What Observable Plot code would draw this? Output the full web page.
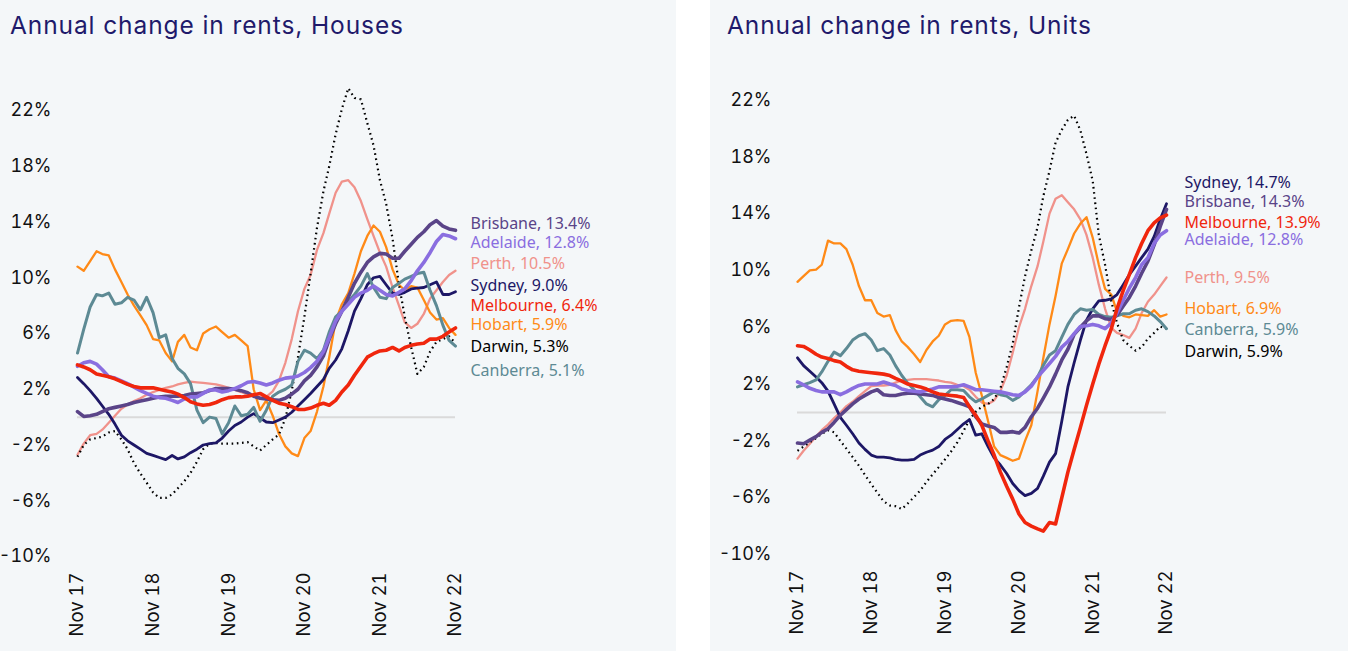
<!DOCTYPE html>
<html>
<head>
<meta charset="utf-8">
<script src="https://cdn.jsdelivr.net/npm/d3@7"></script>
<script src="https://cdn.jsdelivr.net/npm/@observablehq/plot@0.6"></script>
<style>
  html, body { margin: 0; padding: 0; background: #ffffff; }
  #wrap { position: relative; width: 1348px; height: 651px; overflow: hidden; }
  .panel { position: absolute; top: 0; height: 651px; background: #f4f7f9; }
  .title { height: 48px; line-height: 50px; font-family: Inter, "Noto Sans", sans-serif; font-size: 24.5px; letter-spacing: 0.9px; color: #1f1a6b; white-space: nowrap; }
  .panel svg { display: block; overflow: visible; }
</style>
</head>
<body>
<div id="wrap">
  <div class="panel" id="left" style="left:0; width:676px;"><div class="title" style="padding-left:10px;">Annual change in rents, Houses</div></div>
  <div class="panel" id="right" style="left:710px; width:638px;"><div class="title" style="padding-left:17px;">Annual change in rents, Units</div></div>
</div>
<script>
// ---------- data ----------
const cities = ["Sydney", "Melbourne", "Brisbane", "Adelaide", "Perth", "Hobart", "Darwin", "Canberra"];
const firstMonth = new Date(Date.UTC(2017, 10, 1)); // Nov 2017, monthly to Nov 2022 (61 points)

const yTicks = [-10, -6, -2, 2, 6, 10, 14, 18, 22];
const xTickLabels = ["Nov 17", "Nov 18", "Nov 19", "Nov 20", "Nov 21", "Nov 22"];

// Houses: annual change in rents (%)
const housesSydney = [2.85,2.4,1.9,1.35,0.8,0.2,-0.5,-1.3,-1.7,-2.0,-2.3,-2.6,-2.75,-2.9,-3.05,-2.75,-3.0,-2.85,-2.55,-2.3,-2.0,-1.9,-1.85,-1.5,-1.0,-0.6,-0.35,0.0,0.25,-0.05,-0.35,-0.4,-0.2,0.0,0.35,0.8,1.25,1.7,2.2,2.7,3.5,4.1,4.9,6.2,7.6,8.5,9.5,10.0,10.1,9.5,8.9,8.8,8.95,9.2,9.25,9.3,9.5,9.7,8.8,8.8,9.0];
const housesMelbourne = [3.75,3.6,3.4,3.1,3.0,2.9,2.75,2.55,2.35,2.2,2.1,2.1,2.1,2.0,1.9,1.8,1.65,1.4,1.1,0.95,0.85,0.9,1.05,1.25,1.4,1.45,1.45,1.5,1.6,1.7,1.45,1.2,1.0,0.9,0.75,0.55,0.55,0.65,0.85,1.0,0.85,1.2,1.8,2.3,3.0,3.65,4.3,4.55,4.75,4.8,5.0,4.75,5.0,5.15,5.25,5.3,5.6,5.6,5.8,6.1,6.4];
const housesBrisbane = [0.4,0.05,0.1,0.2,0.4,0.6,0.7,0.8,0.9,1.05,1.15,1.25,1.35,1.45,1.5,1.5,1.5,1.55,1.65,1.7,1.75,1.9,2.05,2.05,2.05,2.0,1.9,1.75,1.5,1.35,1.3,1.25,1.2,1.35,1.65,2.0,2.6,3.0,3.6,4.4,5.6,6.7,7.6,8.6,9.6,10.4,11.1,11.5,11.75,11.7,11.4,11.4,11.9,12.4,12.9,13.3,13.8,14.1,13.7,13.5,13.4];
const housesAdelaide = [3.65,3.9,4.0,3.8,3.4,2.9,2.8,2.6,2.4,2.15,1.9,1.7,1.5,1.4,1.35,1.2,1.05,1.3,1.45,1.45,1.7,1.95,1.95,1.8,1.9,2.05,2.25,2.5,2.55,2.45,2.3,2.45,2.65,2.8,2.85,2.95,3.2,3.55,4.0,4.7,5.7,6.9,7.6,8.1,8.6,8.9,9.1,9.4,9.1,8.8,8.7,8.95,9.2,9.8,10.5,11.1,11.8,12.6,13.1,13.0,12.8];
const housesPerth = [-2.7,-1.9,-1.3,-1.2,-0.9,-0.4,0.1,0.6,0.9,1.15,1.35,1.6,1.8,1.95,2.1,2.2,2.35,2.45,2.55,2.5,2.45,2.4,2.35,2.25,2.1,1.95,1.8,1.6,1.5,1.4,1.45,1.85,2.6,3.9,5.6,7.6,9.2,10.2,12.0,13.2,14.6,16.1,16.9,17.0,16.5,15.5,14.2,13.0,11.8,10.8,9.3,8.0,6.8,6.4,6.7,7.4,8.5,9.1,9.7,10.2,10.5];
const housesHobart = [10.8,10.5,11.2,11.9,11.7,11.6,10.6,9.7,8.8,8.0,7.3,6.6,5.6,5.5,4.6,4.0,5.4,5.9,5.0,4.8,6.0,6.3,6.5,6.1,5.7,5.9,5.5,5.1,2.0,0.5,1.2,0.1,-1.2,-2.1,-2.6,-2.8,-1.5,-1.0,0.4,2.2,4.3,6.9,8.1,8.9,10.3,11.9,13.0,13.75,13.3,12.2,10.6,9.5,9.1,9.4,9.3,8.4,7.5,7.0,7.1,6.4,5.9];
const housesDarwin = [-2.85,-2.0,-1.6,-1.5,-1.4,-1.1,-1.0,-1.6,-2.3,-3.3,-4.05,-4.7,-5.4,-5.8,-5.8,-5.55,-5.1,-4.6,-4.0,-3.2,-2.3,-1.9,-1.85,-1.9,-1.9,-1.9,-1.85,-1.8,-2.1,-2.4,-2.0,-1.6,-1.25,-0.1,1.9,4.3,7.2,10.3,13.6,16.2,18.0,20.3,22.1,23.6,22.9,22.8,21.1,19.5,17.0,15.3,12.8,9.5,7.2,5.0,3.1,3.6,4.7,5.4,5.6,5.8,5.3];
const housesCanberra = [4.6,6.3,7.9,8.8,8.7,8.9,8.1,8.2,8.6,8.4,7.7,8.6,7.5,5.7,5.9,4.2,3.5,3.1,2.4,0.5,-0.4,0.0,-0.1,-1.2,-0.4,0.8,0.1,0.2,0.7,-0.3,0.5,1.5,1.8,2.0,2.3,4.0,4.8,4.6,4.2,4.8,6.1,7.2,7.6,8.3,8.8,9.4,10.3,9.3,8.6,8.5,9.3,9.6,9.9,10.1,10.3,10.4,9.1,8.0,6.6,5.5,5.1];
const housesLatest = [9.0, 6.4, 13.4, 12.8, 10.5, 5.9, 5.3, 5.1];

// Units: annual change in rents (%)
const unitsSydney = [3.85,3.3,2.9,2.5,2.1,1.5,0.6,-0.35,-0.9,-1.5,-2.15,-2.6,-3.0,-3.15,-3.15,-3.2,-3.3,-3.35,-3.35,-3.3,-3.0,-2.8,-2.65,-2.4,-1.9,-1.6,-1.2,-0.8,-0.5,-1.6,-1.5,-2.4,-3.2,-3.7,-4.3,-5.0,-5.5,-5.85,-5.7,-5.35,-4.5,-3.5,-2.9,-0.6,1.8,3.5,5.1,6.5,7.3,7.85,7.9,8.0,8.3,9.0,9.7,10.3,10.9,11.5,12.4,13.6,14.7];
const unitsMelbourne = [4.7,4.65,4.4,4.1,3.9,3.8,3.65,3.55,3.25,3.0,2.9,2.85,2.8,2.75,2.7,2.6,2.4,2.2,2.0,1.9,1.8,1.65,1.45,1.3,1.25,1.2,1.15,1.05,0.4,-0.2,-0.9,-2.0,-3.0,-4.2,-5.2,-6.1,-7.15,-7.75,-8.0,-8.2,-8.35,-7.75,-7.85,-6.0,-4.2,-2.6,-1.05,0.5,2.0,3.4,4.7,5.9,7.3,8.6,9.7,10.9,11.9,12.8,13.35,13.7,13.9];
const unitsBrisbane = [-2.15,-2.2,-1.95,-1.7,-1.4,-1.15,-0.7,-0.2,0.2,0.6,0.95,1.2,1.45,1.6,1.25,1.2,1.2,1.3,1.35,1.35,1.3,1.25,1.2,1.05,0.95,0.85,0.7,0.55,0.4,-0.3,-0.8,-0.95,-1.05,-1.4,-1.4,-1.35,-1.45,-1.05,-0.3,0.3,1.0,1.8,2.7,3.7,4.45,5.5,6.0,6.45,6.8,6.8,6.6,6.55,6.85,7.5,8.1,8.9,9.8,10.65,11.8,13.1,14.3];
const unitsAdelaide = [2.15,1.95,1.7,1.55,1.45,1.45,1.45,1.25,1.45,1.7,1.9,2.0,2.0,2.0,2.15,2.0,1.9,1.65,1.55,1.5,1.45,1.55,1.65,1.8,1.8,1.8,1.85,1.95,1.8,1.6,1.6,1.55,1.5,1.45,1.35,1.25,1.2,1.45,1.85,2.5,2.95,3.45,3.95,4.6,5.0,5.55,6.05,6.1,6.2,6.1,5.9,6.3,7.0,7.9,8.75,9.5,10.4,10.9,11.9,12.5,12.8];
const unitsPerth = [-3.25,-2.7,-2.2,-1.7,-1.25,-0.85,-0.4,0.0,0.45,0.75,1.15,1.5,1.85,1.9,1.9,1.95,2.1,2.25,2.3,2.35,2.35,2.35,2.3,2.25,2.15,2.1,1.95,1.85,1.6,1.1,0.7,0.6,0.85,1.5,2.6,4.2,6.0,7.3,8.9,10.3,12.0,14.0,15.05,15.3,14.8,14.3,13.6,12.5,10.9,9.0,7.3,5.95,5.6,5.45,5.25,5.9,7.0,7.8,8.3,8.9,9.5];
const unitsHobart = [9.2,9.6,10.0,10.05,10.4,12.1,11.9,11.9,11.5,10.4,8.9,7.9,7.9,7.0,6.75,6.85,5.8,5.0,4.6,4.1,3.55,4.4,5.0,5.4,6.2,6.45,6.5,6.45,5.3,2.8,1.2,-0.6,-2.4,-3.0,-3.2,-3.4,-3.25,-2.0,-0.9,1.5,3.8,6.2,8.2,10.5,11.5,12.6,13.3,13.75,12.3,10.4,8.7,8.3,7.1,6.8,6.7,6.9,6.85,6.8,7.2,6.75,6.9];
const unitsDarwin = [-2.7,-2.4,-2.1,-1.8,-1.5,-1.25,-1.4,-2.0,-2.55,-3.15,-3.75,-4.4,-5.05,-5.65,-6.25,-6.55,-6.6,-6.8,-6.4,-5.95,-5.5,-4.9,-4.35,-3.85,-3.3,-2.75,-2.1,-1.3,-0.5,0.05,0.4,0.6,0.95,1.7,3.2,4.85,7.4,9.6,11.4,13.05,15.2,17.0,19.0,19.9,20.6,20.9,19.85,18.2,16.3,12.5,10.4,7.8,6.3,5.1,4.7,4.35,4.6,5.2,5.6,6.05,5.9];
const unitsCanberra = [1.8,1.95,2.1,2.3,2.85,3.6,4.25,4.0,4.5,5.1,5.4,5.55,5.1,4.35,4.5,4.05,3.3,2.6,2.05,1.6,1.1,0.6,0.4,0.9,1.2,1.6,1.6,1.55,1.1,0.75,0.95,1.2,1.45,1.25,1.15,0.85,1.1,1.5,1.95,2.5,3.3,4.05,4.35,5.3,6.2,6.9,7.3,7.2,7.25,6.9,6.75,6.7,6.8,6.95,6.95,7.2,7.3,7.1,6.8,6.4,5.9];
const unitsLatest = [14.7, 13.9, 14.3, 12.8, 9.5, 6.9, 5.9, 5.9];

// ---------- styling / layout (not data) ----------
const cityStyle = {
  Sydney:    {stroke: "#1d1766", width: 2.8},
  Melbourne: {stroke: "#f0260d", width: 3.6},
  Brisbane:  {stroke: "#5a4488", width: 3.6},
  Adelaide:  {stroke: "#8a6ee0", width: 3.6},
  Perth:     {stroke: "#f0928b", width: 2.3},
  Hobart:    {stroke: "#ff8a17", width: 2.3},
  Darwin:    {stroke: "#000000", width: 2.2, dash: "1.6,3.6"},
  Canberra:  {stroke: "#5d8a94", width: 3.0}
};
const labelColor = {Sydney: "#1d1766", Melbourne: "#f0260d", Brisbane: "#5a4488", Adelaide: "#8a6ee0", Perth: "#f0928b", Hobart: "#ff8a17", Darwin: "#000000", Canberra: "#5d8a94"};
const drawOrder = ["Perth", "Hobart", "Darwin", "Sydney", "Canberra", "Brisbane", "Adelaide", "Melbourne"];
// label anchor heights (in % units) to keep labels apart, as in the original
const housesLabelAt = {Brisbane: 13.9, Adelaide: 12.5, Perth: 11.0, Sydney: 9.45, Melbourne: 8.0, Hobart: 6.6, Darwin: 5.05, Canberra: 3.3};
const unitsLabelAt = {Sydney: 16.15, Brisbane: 14.8, Melbourne: 13.35, Adelaide: 12.15, Perth: 9.5, Hobart: 7.3, Canberra: 5.8, Darwin: 4.3};

const months = d3.utcMonth.range(firstMonth, d3.utcMonth.offset(firstMonth, 61));
const xTickDates = xTickLabels.map((_, i) => d3.utcYear.offset(firstMonth, i));

function drawPanel(el, seriesList, latest, labelAt, o) {
  const rows = [];
  cities.forEach((c, i) => seriesList[i].forEach((v, m) => rows.push({city: c, date: months[m], v})));
  const labels = cities.map((c, i) => ({city: c, text: `${c}, ${latest[i].toFixed(1)}%`, y: labelAt[c]}));
  const lineMarks = drawOrder.map(c => Plot.line(rows.filter(r => r.city === c), {
    x: "date", y: "v", stroke: cityStyle[c].stroke, strokeWidth: cityStyle[c].width,
    strokeDasharray: cityStyle[c].dash, strokeLinecap: cityStyle[c].dash ? "butt" : "round", strokeLinejoin: "round"
  }));
  const svg = Plot.plot({
    width: o.width, height: 603,
    marginLeft: o.ml, marginRight: o.mr, marginTop: o.mt, marginBottom: o.mb,
    style: {background: "transparent", fontFamily: "Inter, 'Noto Sans', sans-serif", fontSize: "18px", color: "#111", overflow: "visible"},
    x: {type: "utc", domain: [months[0], months[60]]},
    y: {domain: [-10, 22]},
    marks: [
      Plot.ruleY([0], {stroke: "#dadada", strokeWidth: 2}),
      Plot.axisY({ticks: yTicks, tickFormat: d => `${d}%`, tickSize: 0, tickPadding: 26, label: null, fontSize: 18}),
      Plot.axisX({ticks: xTickDates, tickFormat: (d, i) => xTickLabels[i], tickRotate: -90, tickSize: 0, tickPadding: 16, label: null, fontSize: 18.5}),
      ...lineMarks,
      Plot.text(labels, {x: () => months[60], y: "y", text: "text", fill: d => labelColor[d.city], textAnchor: "start", dx: o.dx, fontSize: 16, fontFamily: "'Noto Sans', 'Open Sans', sans-serif"})
    ]
  });
  el.appendChild(svg);
}

drawPanel(document.getElementById("left"),
  [housesSydney, housesMelbourne, housesBrisbane, housesAdelaide, housesPerth, housesHobart, housesDarwin, housesCanberra],
  housesLatest, housesLabelAt, {width: 676, ml: 77, mr: 221, mt: 62, mb: 95, dx: 15});
drawPanel(document.getElementById("right"),
  [unitsSydney, unitsMelbourne, unitsBrisbane, unitsAdelaide, unitsPerth, unitsHobart, unitsDarwin, unitsCanberra],
  unitsLatest, unitsLabelAt, {width: 638, ml: 87, mr: 182, mt: 51.5, mb: 97, dx: 18});
</script>
</body>
</html>
